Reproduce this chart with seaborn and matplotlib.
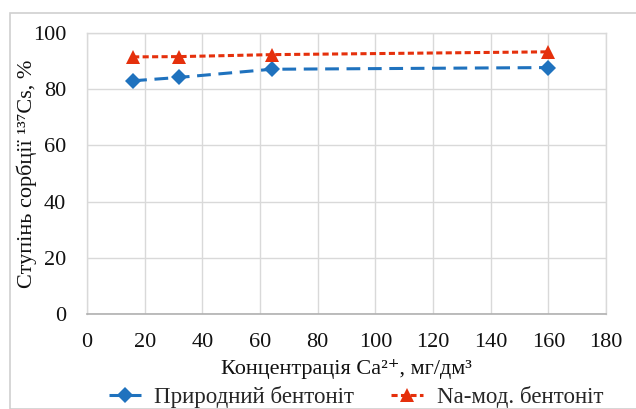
import matplotlib
matplotlib.use("Agg")
import matplotlib.pyplot as plt
import seaborn as sns
import pandas as pd

conc = [16, 32, 64, 160]
natural = [83.0, 84.2, 87.1, 87.7]
na_mod = [91.5, 91.6, 92.3, 93.3]
series_names = ["Природний бентоніт", "Na-мод. бентоніт"]
x_ticks = [0, 20, 40, 60, 80, 100, 120, 140, 160, 180]
y_ticks = [0, 20, 40, 60, 80, 100]

sns.set_theme(style="whitegrid")
plt.rcParams['font.family'] = ['Liberation Serif', 'DejaVu Serif']

df = pd.DataFrame({
    "x": conc * 2,
    "y": natural + na_mod,
    "s": [series_names[0]] * len(conc) + [series_names[1]] * len(conc),
})

fig = plt.figure(figsize=(6.36, 4.09), dpi=100)
ax = fig.add_axes([87/636, 1 - 314/409, (606-87)/636, (314-33)/409])

palette = {series_names[0]: "#1F72BE", series_names[1]: "#E5300C"}
markers = {series_names[0]: "D", series_names[1]: "^"}
sns.lineplot(data=df, x="x", y="y", hue="s", style="s", palette=palette,
             markers=markers, dashes={series_names[0]: (4.5, 2.5), series_names[1]: (2, 1.1)},
             markersize=9, linewidth=2.2, markeredgewidth=0, ax=ax, legend=True)
for line in ax.get_lines():
    if line.get_marker() == 'D':
        line.set_markersize(8.5)
    elif line.get_marker() == '^':
        line.set_markersize(10.5)

ax.set_xlim(0, 180)
ax.set_ylim(0, 100)
ax.set_xticks(x_ticks)
ax.set_yticks(y_ticks)
ax.tick_params(axis='both', labelsize=16, colors='#111111', length=0)
ax.tick_params(axis='x', pad=14)
ax.tick_params(axis='y', pad=15)
ax.grid(True, color='#d9d9d9', linewidth=1.0)
for side in ['top', 'right', 'left']:
    ax.spines[side].set_color('#d9d9d9')
    ax.spines[side].set_linewidth(1.0)
ax.spines['bottom'].set_color('#b0b0b0')
ax.spines['bottom'].set_linewidth(1.2)

ax.set_xlabel("Концентрація Ca²⁺, мг/дм³", fontsize=16, color='#111111', labelpad=5)
ax.set_ylabel("Ступінь сорбції ¹³⁷Cs, %", fontsize=16, color='#111111')
ax.yaxis.set_label_coords((37 - 87) / 519, 0.5)

h, l = ax.get_legend_handles_labels()
ax.legend(h, l, loc='center', bbox_to_anchor=(356/636, 1 - 397/409),
          bbox_transform=fig.transFigure, ncol=2, frameon=False, fontsize=16.5,
          handlelength=1.4, handletextpad=0.6, columnspacing=1.6, borderpad=0)

fig.patches.append(matplotlib.patches.Rectangle((10/636, 0), 1, 1 - 13/409, transform=fig.transFigure,
                                                 fill=False, edgecolor='#d0d0d0', linewidth=1.2))
fig.savefig("out.png", dpi=100)
